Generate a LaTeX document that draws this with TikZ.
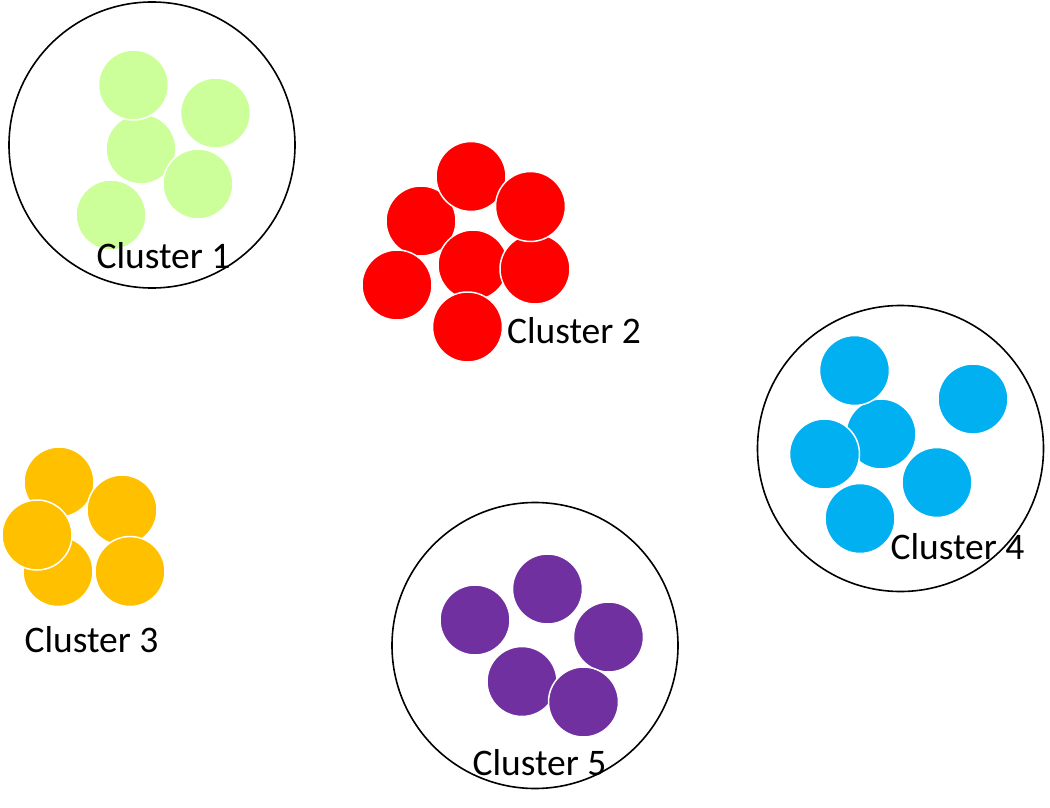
\documentclass[tikz,border=0pt]{standalone}
\usepackage{fontspec}
\setmainfont{Carlito}
\definecolor{cgreen}{HTML}{CCFF99}
\definecolor{cred}{HTML}{FF0000}
\definecolor{cyellow}{HTML}{FFC000}
\definecolor{cblue}{HTML}{00B0F0}
\definecolor{cpurple}{HTML}{7030A0}
\tikzset{
  dot/.style={circle, draw=white, line width=1.5pt, minimum size=70pt, inner sep=0pt},
  ring/.style={circle, draw=black, line width=1.6pt, inner sep=0pt, minimum size=286pt},
  lbl/.style={font=\fontsize{37.5}{42}\selectfont, inner sep=0pt, text=black}
}
\begin{document}
\begin{tikzpicture}[x=1pt,y=-1pt]
\useasboundingbox (0,0) rectangle (1050,808);
% big rings
\node[ring] (r1) at (152,145) {};
\node[ring] (r4) at (900.5,448.5) {};
\node[ring] (r5) at (535,645.5) {};
% cluster 1 (green)
\node[dot, fill=cgreen] (g3) at (141,149) {};
\node[dot, fill=cgreen] (g1) at (133.5,85) {};
\node[dot, fill=cgreen] (g4) at (198,184) {};
\node[dot, fill=cgreen] (g2) at (215.5,113) {};
\node[dot, fill=cgreen] (g5) at (111,215) {};
% cluster 2 (red)
\node[dot, fill=cred] (d3) at (421,221) {};
\node[dot, fill=cred] (d1) at (471,176.5) {};
\node[dot, fill=cred] (d4) at (473,265) {};
\node[dot, fill=cred] (d5) at (535,269) {};
\node[dot, fill=cred] (d2) at (530.5,206.5) {};
\node[dot, fill=cred] (d6) at (397,285) {};
\node[dot, fill=cred] (d7) at (467.5,327) {};
% cluster 3 (yellow)
\node[dot, fill=cyellow] (y1) at (59,482) {};
\node[dot, fill=cyellow] (y3) at (58,571.5) {};
\node[dot, fill=cyellow] (y2) at (122,510) {};
\node[dot, fill=cyellow] (y4) at (37,535) {};
\node[dot, fill=cyellow] (y5) at (130,571.5) {};
% cluster 4 (blue)
\node[dot, fill=cblue] (b3) at (881,434) {};
\node[dot, fill=cblue] (b1) at (854.5,370.5) {};
\node[dot, fill=cblue] (b4) at (824.5,454) {};
\node[dot, fill=cblue] (b2) at (973,399) {};
\node[dot, fill=cblue] (b5) at (937,482.5) {};
\node[dot, fill=cblue] (b6) at (860,518.5) {};
% cluster 5 (purple)
\node[dot, fill=cpurple] (p1) at (475,620) {};
\node[dot, fill=cpurple] (p2) at (547.5,589) {};
\node[dot, fill=cpurple] (p3) at (608.5,637) {};
\node[dot, fill=cpurple] (p4) at (522,681.5) {};
\node[dot, fill=cpurple] (p5) at (583.5,702) {};
% labels
\node[lbl] (l1) at (163.5,256) {Cluster 1};
\node[lbl] (l2) at (574,331) {Cluster 2};
\node[lbl] (l3) at (91.5,640) {Cluster 3};
\node[lbl] (l4) at (957.5,547) {Cluster 4};
\node[lbl] (l5) at (539.5,763) {Cluster 5};
\end{tikzpicture}
\end{document}
